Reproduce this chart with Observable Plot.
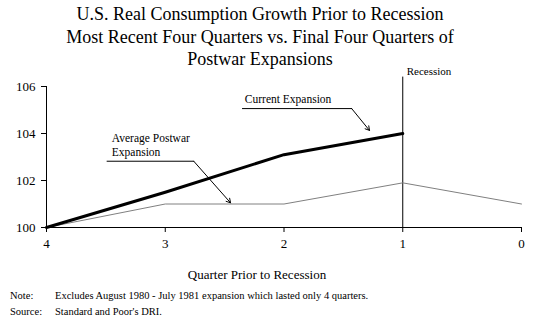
<!DOCTYPE html>
<html><head><meta charset="utf-8">
<script src="https://cdn.jsdelivr.net/npm/d3@7"></script>
<script src="https://cdn.jsdelivr.net/npm/@observablehq/plot@0.6"></script>
<style>
body{margin:0;background:#fff;font-family:"Times New Roman",serif;}
#wrap{position:relative;width:545px;height:325px;overflow:hidden;font-family:"Times New Roman",serif;}
#title{position:absolute;left:0;top:3px;width:520px;text-align:center;font-size:18px;line-height:22.5px;color:#000;}
#xlabel{position:absolute;left:0;top:267px;width:514px;text-align:center;font-size:13px;font-weight:normal;}
.note{position:absolute;left:10px;font-size:10.5px;}
.note span{position:absolute;left:45px;white-space:nowrap;}
#chart svg{position:absolute;left:0;top:0;font-family:"Times New Roman",serif !important;}
#chart svg text{font-family:"Times New Roman",serif !important;}
</style></head><body>
<div id="wrap">
<div id="chart"></div>
<div id="title">U.S. Real Consumption Growth Prior to Recession<br>Most Recent Four Quarters vs. Final Four Quarters of<br>Postwar Expansions</div>
<div id="xlabel">Quarter Prior to Recession</div>
<div class="note" style="top:290px">Note:<span>Excludes August 1980 - July 1981 expansion which lasted only 4 quarters.</span></div>
<div class="note" style="top:306px">Source:<span>Standard and Poor's DRI.</span></div>
</div>
<script>
const quarters = [4, 3, 2, 1, 0];
const currentQuarters = [4, 3, 2, 1];
const currentValues = [100, 101.5, 103.1, 104.0];
const averageValues = [100, 101.0, 101.0, 101.9, 101.0];
const yTicks = [100, 102, 104, 106];

const current = currentQuarters.map((q, i) => ({q, v: currentValues[i]}));
const average = quarters.map((q, i) => ({q, v: averageValues[i]}));

// annotation leaders (data coordinates)
const curLeader = [{q: 2.35, v: 105.06}, {q: 1.43, v: 105.06}];
const curArrow = [{x1: 1.43, y1: 105.06, x2: 1.28, y2: 104.13}];
const avgLeader = [{q: 3.49, v: 102.82}, {q: 2.76, v: 102.82}];
const avgArrow = [{x1: 2.76, y1: 102.82, x2: 2.45, y2: 101.05}];

const chart = Plot.plot({
  width: 545, height: 325,
  marginTop: 86, marginBottom: 98, marginLeft: 46, marginRight: 24,
  style: "font-family: 'Times New Roman', serif; font-size: 13px; background: transparent; overflow: visible;",
  x: {domain: [4, 0], ticks: quarters, label: null},
  y: {domain: [100, 106], ticks: yTicks, label: null},
  marks: [
    Plot.axisY({ticks: yTicks, tickSize: 5, tickPadding: 6, label: null, fontSize: 13, tickFormat: d => String(d)}),
    Plot.axisX({ticks: quarters, tickSize: 5, tickPadding: 6, label: null, fontSize: 13, tickFormat: d => String(d)}),
    Plot.ruleX([4], {y1: 100, y2: 106, stroke: "#000"}),
    Plot.ruleY([100], {x1: 4, x2: 0, stroke: "#000"}),
    Plot.ruleX([1], {y1: 100, y2: 106.4, stroke: "#000", clip: false}),
    Plot.text(["Recession"], {x: 1, y: 106.4, dx: 4, dy: -6, text: d => d, textAnchor: "start", fontSize: 11}),
    Plot.line(average, {x: "q", y: "v", stroke: "#808080", strokeWidth: 1}),
    Plot.line(current, {x: "q", y: "v", stroke: "#000", strokeWidth: 3}),
    Plot.line(curLeader, {x: "q", y: "v", stroke: "#000", strokeWidth: 1}),
    Plot.arrow(curArrow, {x1: "x1", y1: "y1", x2: "x2", y2: "y2", stroke: "#000", strokeWidth: 1, headLength: 7}),
    Plot.line(avgLeader, {x: "q", y: "v", stroke: "#000", strokeWidth: 1}),
    Plot.arrow(avgArrow, {x1: "x1", y1: "y1", x2: "x2", y2: "y2", stroke: "#000", strokeWidth: 1, headLength: 7}),
    Plot.text(["Current Expansion"], {x: 2.33, y: 105.45, text: d => d, textAnchor: "start", fontSize: 11.5}),
    Plot.text(["Average Postwar\nExpansion"], {x: 3.45, y: 103.53, text: d => d, textAnchor: "start", fontSize: 11.5, lineHeight: 1.25})
  ]
});
document.getElementById("chart").appendChild(chart);
</script>
</body></html>
